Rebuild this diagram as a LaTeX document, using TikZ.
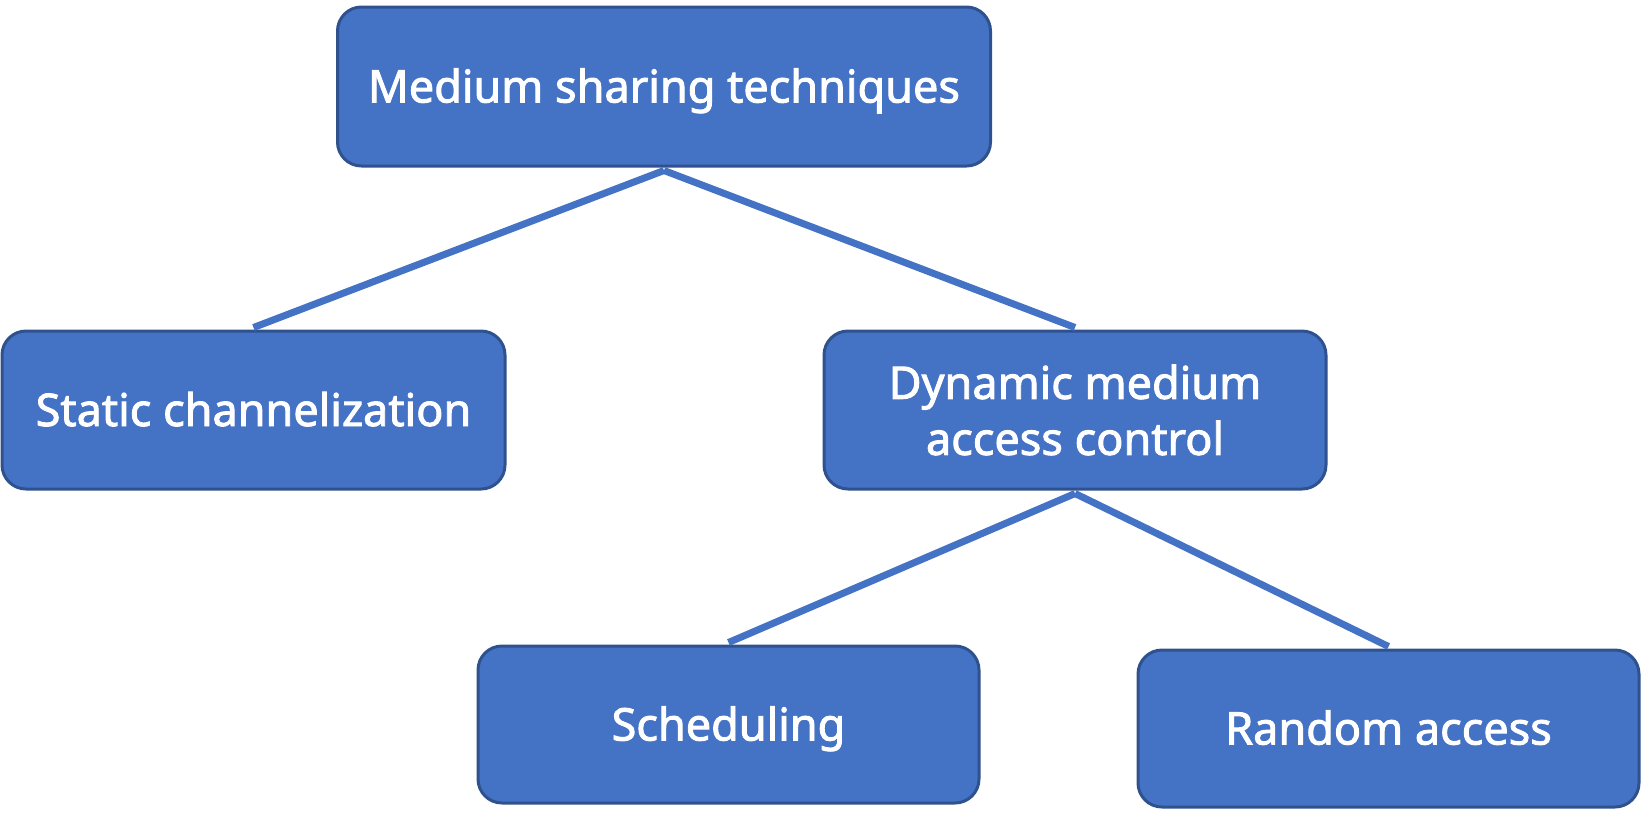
\documentclass[tikz,border=0pt]{standalone}
\usepackage{fontspec}
\newfontfamily\boxfont[FakeBold=2]{Noto Sans}
\definecolor{boxfill}{HTML}{4472C4}
\definecolor{boxline}{HTML}{2F528F}
\begin{document}
\begin{tikzpicture}[x=1pt,y=-1pt,
  box/.style={draw=boxline, fill=boxfill, line width=3pt, rounded corners=24pt,
    inner sep=0pt, text=white, align=center,
    font=\boxfont\fontsize{45}{56}\selectfont},
  oneline/.style={text height=32pt, text depth=0pt},
  link/.style={draw=boxfill, line width=7pt}]
\useasboundingbox (0,0) rectangle (1644,815);
\node[box, oneline, minimum width=653pt, minimum height=159pt] (top) at (664,86.5) {Medium sharing techniques};
\node[box, oneline, minimum width=503pt, minimum height=158pt] (static) at (253.5,410) {Static channelization};
\node[box, minimum width=502pt, minimum height=158pt] (dyn) at (1075,410) {\raisebox{-4pt}{Dynamic medium}\\\raisebox{-4pt}{access control}};
\node[box, oneline, minimum width=501pt, minimum height=157pt] (sched) at (728.5,724.5) {Scheduling};
\node[box, oneline, minimum width=501pt, minimum height=157pt] (rand) at (1388.5,728.5) {Random access};
\draw[link] ([yshift=-3pt]top.south) -- ([yshift=2pt]static.north);
\draw[link] ([yshift=-3pt]top.south) -- ([yshift=2pt]dyn.north);
\draw[link] ([yshift=-3pt]dyn.south) -- ([yshift=2pt]sched.north);
\draw[link] ([yshift=-3pt]dyn.south) -- ([yshift=2pt]rand.north);
\end{tikzpicture}
\end{document}
